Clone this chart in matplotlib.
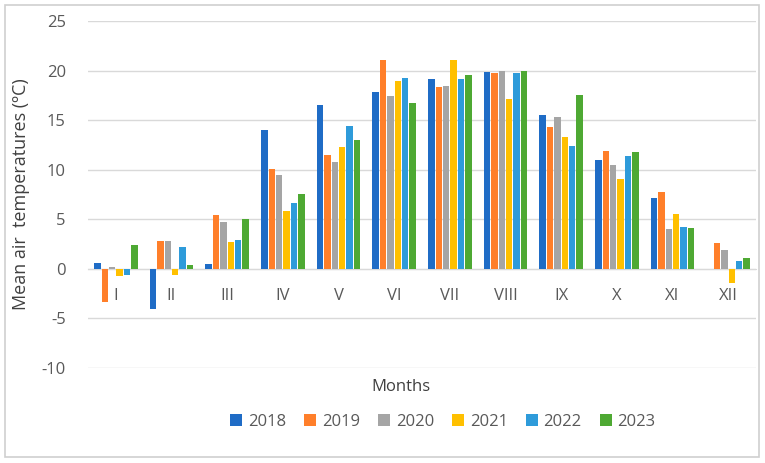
import matplotlib
matplotlib.use("Agg")
import matplotlib.pyplot as plt
import numpy as np
from matplotlib.patches import Rectangle

months = ["I", "II", "III", "IV", "V", "VI", "VII", "VIII", "IX", "X", "XI", "XII"]
years = ["2018", "2019", "2020", "2021", "2022", "2023"]
t2018 = [0.6, -4.0, 0.5, 14.0, 16.5, 17.8, 19.2, 19.9, 15.5, 11.0, 7.1, 0.0]
t2019 = [-3.3, 2.8, 5.4, 10.1, 11.5, 21.1, 18.3, 19.8, 14.3, 11.9, 7.8, 2.6]
t2020 = [0.2, 2.8, 4.7, 9.5, 10.8, 17.4, 18.4, 20.0, 15.3, 10.5, 4.0, 1.9]
t2021 = [-0.7, -0.6, 2.7, 5.8, 12.3, 18.9, 21.1, 17.1, 13.3, 9.1, 5.5, -1.4]
t2022 = [-0.6, 2.2, 2.9, 6.6, 14.4, 19.3, 19.1, 19.8, 12.4, 11.4, 4.2, 0.8]
t2023 = [2.4, 0.4, 5.0, 7.6, 13.0, 16.7, 19.6, 20.0, 17.5, 11.8, 4.1, 1.1]
series = [t2018, t2019, t2020, t2021, t2022, t2023]
colors = ["#1F6CC6", "#FF7F2A", "#A5A5A5", "#FFC000", "#2E9BDA", "#4EA933"]

plt.rcParams['font.family'] = ['Open Sans', 'DejaVu Sans']
plt.rcParams['axes.unicode_minus'] = False
fig = plt.figure(figsize=(7.65, 4.63), dpi=100)
ax = fig.add_axes([88/765, 1-368/463, 668/765, 347/463])
border = Rectangle((4.5/765, 1-457/463), 754/765, 452/463, transform=fig.transFigure,
                   fill=False, edgecolor="#CFCFCF", linewidth=1.2, zorder=10)
fig.patches.append(border)

x = np.arange(len(months))
n = len(series)
step = 0.133
bw = 0.115
for i, (vals, c, y) in enumerate(zip(series, colors, years)):
    ax.bar(x + (i - (n-1)/2)*step, vals, width=bw, color=c, label=y, zorder=3)

ax.set_xlim(-0.5, len(months)-0.5)
ax.set_ylim(-10, 25)
ax.set_yticks(range(-10, 26, 5))
ax.grid(axis='y', color="#D9D9D9", linewidth=1, zorder=0)
for s in ['top', 'right', 'left']:
    ax.spines[s].set_visible(False)
ax.spines['bottom'].set_position(('data', 0))
ax.spines['bottom'].set_color("#D9D9D9")
ax.spines['bottom'].set_zorder(1)
ax.set_xticks(x)
ax.set_xticklabels(months)
ax.tick_params(axis='x', length=0, pad=14, labelsize=12, labelcolor="#595959")
ax.tick_params(axis='y', length=0, pad=16, labelsize=12, labelcolor="#595959")
ax.set_ylabel("Mean air  temperatures (ºC)", fontsize=13, color="#404040")
ax.yaxis.set_label_coords((30-88)/668, 0.5)
fig.text(401/765, 1-387/463, "Months", ha='center', va='center', fontsize=12, color="#404040")

leg = fig.legend(loc='center', bbox_to_anchor=(443/765, 1-422/463), ncol=6, frameon=False,
                 fontsize=12, handlelength=0.7, handleheight=0.7, handletextpad=0.35,
                 columnspacing=1.1, labelcolor="#595959")
fig.savefig("out.png", dpi=100)
